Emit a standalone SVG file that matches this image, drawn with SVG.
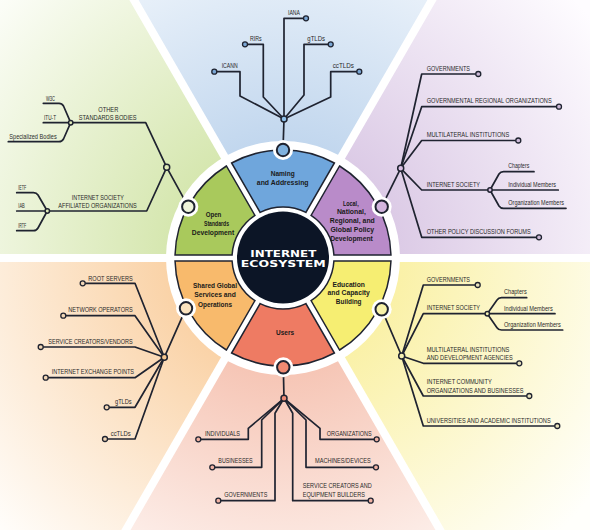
<svg xmlns="http://www.w3.org/2000/svg" width="590" height="530" viewBox="0 0 590 530">
<style>
.sep{stroke:#fff;stroke-width:8}
.c{fill:none;stroke:#1f2330;stroke-width:1.7;stroke-linejoin:round;stroke-linecap:round}
.sec{stroke:#1f2330;stroke-width:1.5}
.lbl{font-family:"Liberation Sans",Arial,sans-serif;font-size:6.3px;fill:#2a2a2a}
.sl{font-family:"Liberation Sans",Arial,sans-serif;font-size:7.4px;font-weight:bold;fill:#1a1a1a;text-anchor:middle}
.ttl{font-family:"DejaVu Sans",sans-serif;font-weight:bold;font-size:9.5px;fill:#fff;text-anchor:middle}
.end{stroke:#1f2330;stroke-width:1.3}
.hub{stroke:#1f2330;stroke-width:1.5}
.big{stroke:#1f2330;stroke-width:2}
.halo{fill:#fff}
</style>
<defs>
<radialGradient id="gB" cx="283" cy="258" r="390" gradientUnits="userSpaceOnUse"><stop offset="0.3" stop-color="#c2d7ee"/><stop offset="1" stop-color="#fbfdff"/></radialGradient>
<radialGradient id="gP" cx="283" cy="258" r="390" gradientUnits="userSpaceOnUse"><stop offset="0.3" stop-color="#dccbe6"/><stop offset="1" stop-color="#fefcff"/></radialGradient>
<radialGradient id="gY" cx="283" cy="258" r="390" gradientUnits="userSpaceOnUse"><stop offset="0.3" stop-color="#faf1a8"/><stop offset="1" stop-color="#fffffb"/></radialGradient>
<radialGradient id="gS" cx="283" cy="258" r="390" gradientUnits="userSpaceOnUse"><stop offset="0.3" stop-color="#f6c6b6"/><stop offset="1" stop-color="#fffcfb"/></radialGradient>
<radialGradient id="gO" cx="283" cy="258" r="390" gradientUnits="userSpaceOnUse"><stop offset="0.3" stop-color="#fad3a8"/><stop offset="1" stop-color="#fffdfa"/></radialGradient>
<radialGradient id="gG" cx="283" cy="258" r="390" gradientUnits="userSpaceOnUse"><stop offset="0.3" stop-color="#d6e7b0"/><stop offset="1" stop-color="#fdfefa"/></radialGradient>
<polygon id="wedge" points="283,258 633,-348 -67,-348"/>
<path id="sec" class="sec" d="M334.39 163 A108 108 0 0 0 231.61 163 L260.14 212.41 A51 51 0 0 1 305.86 212.41 Z"/>
</defs>

<g id="background">
<rect width="590" height="530" fill="#fff"/>
<use href="#wedge" fill="url(#gB)"/>
<use href="#wedge" fill="url(#gP)" transform="rotate(60 283 258)"/>
<use href="#wedge" fill="url(#gY)" transform="rotate(120 283 258)"/>
<use href="#wedge" fill="url(#gS)" transform="rotate(180 283 258)"/>
<use href="#wedge" fill="url(#gO)" transform="rotate(240 283 258)"/>
<use href="#wedge" fill="url(#gG)" transform="rotate(300 283 258)"/>
<line class="sep" x1="-420" y1="258" x2="990" y2="258"/>
<line class="sep" x1="-67" y1="864" x2="633" y2="-348"/>
<line class="sep" x1="633" y1="864" x2="-67" y2="-348"/>
</g>

<g id="connectors">
<!-- top -->
<path class="c" d="M283 150 L284 119"/>
<path class="c" d="M284 119 L240 96 L240 71.7 L214.3 71.7"/>
<path class="c" d="M284 119 L263.3 97 L263.3 44.3 L245 44.3"/>
<path class="c" d="M284 119 L284 18.3 L306 18.3"/>
<path class="c" d="M284 119 L304 95 L304 44.3 L330.7 44.3"/>
<path class="c" d="M284 119 L330.7 97 L330.7 71.7 L359.3 71.7"/>
<!-- upper left -->
<path class="c" d="M188.3 206.7 L166.7 167.3"/>
<path class="c" d="M166.7 167.3 L145.7 122.7 L70.7 122.7"/>
<path class="c" d="M70.7 122.7 L63.5 106 Q62 103.3 59 103.3 L43.3 103.3"/>
<path class="c" d="M70.7 122.7 L43.3 122.7"/>
<path class="c" d="M70.7 122.7 L63.5 139 Q62 141.7 59 141.7 L8.3 141.7"/>
<path class="c" d="M166.7 167.3 L146.7 211 L47.3 211"/>
<path class="c" d="M47.3 211 L38 195 Q36.5 192.7 33.5 192.7 L16.7 192.7"/>
<path class="c" d="M47.3 211 L16.7 211"/>
<path class="c" d="M47.3 211 L38 228 Q36.5 230.7 33.5 230.7 L16.7 230.7"/>
<!-- upper right -->
<path class="c" d="M381.7 206.7 L400.7 168.3"/>
<path class="c" d="M400.7 168.3 L421.7 74 L478.3 74"/>
<path class="c" d="M400.7 168.3 L421.7 106.7 L559 106.7"/>
<path class="c" d="M400.7 168.3 L421.7 140.5 L518.3 140.5"/>
<path class="c" d="M400.7 168.3 L421.7 190 L490 190"/>
<path class="c" d="M490 190 L499 174 Q500.5 171.7 503.5 171.7 L534 171.7"/>
<path class="c" d="M490 190 L558.3 190"/>
<path class="c" d="M490 190 L499 206 Q500.5 208.3 503.5 208.3 L566 208.3"/>
<path class="c" d="M400.7 168.3 L421.7 237.3 L539 237.3"/>
<!-- lower right -->
<path class="c" d="M381.7 309.3 L401.7 356"/>
<path class="c" d="M401.7 356 L423.3 285 L477.7 285"/>
<path class="c" d="M401.7 356 L423.3 313.7 L487.3 313.7"/>
<path class="c" d="M487.3 313.7 L497 300 Q498.5 297.7 501.5 297.7 L526.7 297.7"/>
<path class="c" d="M487.3 313.7 L555 313.7"/>
<path class="c" d="M487.3 313.7 L497 327.7 Q498.5 330 501.5 330 L562.7 330"/>
<path class="c" d="M401.7 356 L423.3 363.3 L519.3 363.3"/>
<path class="c" d="M401.7 356 L423.3 396 L529.3 396"/>
<path class="c" d="M401.7 356 L423.3 426 L557.3 426"/>
<!-- lower left -->
<path class="c" d="M186 308.3 L164.3 357.3"/>
<path class="c" d="M164.3 357.3 L135 283.3 L82.7 283.3"/>
<path class="c" d="M164.3 357.3 L135 315.7 L63.3 315.7"/>
<path class="c" d="M164.3 357.3 L135 347 L40.7 347"/>
<path class="c" d="M164.3 357.3 L135 377.7 L45.7 377.7"/>
<path class="c" d="M164.3 357.3 L135 407.3 L106.7 407.3"/>
<path class="c" d="M164.3 357.3 L135 439 L105 439"/>
<!-- bottom -->
<path class="c" d="M283.3 367.3 L284 398.3"/>
<path class="c" d="M284 398.3 L248.3 428.3 L248.3 439.3 L198.3 439.3"/>
<path class="c" d="M284 398.3 L261.7 420 L261.7 467.3 L212.3 467.3"/>
<path class="c" d="M284 398.3 L275 413.3 L275 500.7 L218.3 500.7"/>
<path class="c" d="M284 398.3 L292.7 413.3 L292.7 500.7 L370.7 500.7"/>
<path class="c" d="M284 398.3 L306 420 L306 467.3 L376 467.3"/>
<path class="c" d="M284 398.3 L320 428.3 L320 439.3 L376.7 439.3"/>
</g>

<g id="ring">
<circle cx="283" cy="258" r="117" fill="#fff"/>
<circle cx="283" cy="257.5" r="46" fill="#0c1526"/>
</g>

<g id="naming">
<use href="#sec" fill="#6fa6dc"/>
<text class="sl" x="282.7" y="176" textLength="24" lengthAdjust="spacingAndGlyphs">Naming</text>
<text class="sl" x="282.7" y="185" textLength="51.7" lengthAdjust="spacingAndGlyphs">and Addressing</text>
<circle class="halo" cx="283" cy="150" r="10"/><circle class="big" cx="283" cy="150" r="6.2" fill="#7fb1de"/>
</g>
<g id="policy">
<use href="#sec" fill="#b98bc9" transform="rotate(60 283 258)"/>
<text class="sl" x="350.8" y="205.5" textLength="15.7" lengthAdjust="spacingAndGlyphs">Local,</text>
<text class="sl" x="351.4" y="214.3" textLength="29" lengthAdjust="spacingAndGlyphs">National,</text>
<text class="sl" x="352.3" y="223" textLength="45" lengthAdjust="spacingAndGlyphs">Regional, and</text>
<text class="sl" x="352.3" y="231.8" textLength="43.7" lengthAdjust="spacingAndGlyphs">Global Policy</text>
<text class="sl" x="351.5" y="240.6" textLength="42.7" lengthAdjust="spacingAndGlyphs">Development</text>
<circle class="halo" cx="381.7" cy="206.7" r="10"/><circle class="big" cx="381.7" cy="206.7" r="6.2" fill="#d3b5de"/>
</g>
<g id="education">
<use href="#sec" fill="#f6ee72" transform="rotate(120 283 258)"/>
<text class="sl" x="348.7" y="286.7" textLength="32.3" lengthAdjust="spacingAndGlyphs">Education</text>
<text class="sl" x="348.7" y="295.3" textLength="42.3" lengthAdjust="spacingAndGlyphs">and Capacity</text>
<text class="sl" x="348.7" y="304.3" textLength="25.7" lengthAdjust="spacingAndGlyphs">Building</text>
<circle class="halo" cx="381.7" cy="309.3" r="10"/><circle class="big" cx="381.7" cy="309.3" r="6.2" fill="#f8f3a8"/>
</g>
<g id="users">
<use href="#sec" fill="#ee7b63" transform="rotate(180 283 258)"/>
<text class="sl" x="285" y="335.3" textLength="18" lengthAdjust="spacingAndGlyphs">Users</text>
<circle class="halo" cx="283.3" cy="367.3" r="10"/><circle class="big" cx="283.3" cy="367.3" r="6.2" fill="#f08a72"/>
</g>
<g id="shared">
<use href="#sec" fill="#f8ba6c" transform="rotate(240 283 258)"/>
<text class="sl" x="215" y="288.3" textLength="44" lengthAdjust="spacingAndGlyphs">Shared Global</text>
<text class="sl" x="215" y="297.3" textLength="41.7" lengthAdjust="spacingAndGlyphs">Services and</text>
<text class="sl" x="215" y="306.7" textLength="34" lengthAdjust="spacingAndGlyphs">Operations</text>
<circle class="halo" cx="186" cy="308.3" r="10"/><circle class="big" cx="186" cy="308.3" r="6.2" fill="#fbe3bf"/>
</g>
<g id="standards">
<use href="#sec" fill="#a9c95c" transform="rotate(300 283 258)"/>
<text class="sl" x="213.5" y="216.7" textLength="15.7" lengthAdjust="spacingAndGlyphs">Open</text>
<text class="sl" x="216.5" y="225.5" textLength="25" lengthAdjust="spacingAndGlyphs">Standards</text>
<text class="sl" x="213" y="235" textLength="42.3" lengthAdjust="spacingAndGlyphs">Development</text>
<circle class="halo" cx="188.3" cy="206.7" r="10"/><circle class="big" cx="188.3" cy="206.7" r="6.2" fill="#eef3da"/>
</g>
<g id="center">
<text class="ttl" x="283.3" y="256.7" textLength="66" lengthAdjust="spacingAndGlyphs">INTERNET</text>
<text class="ttl" x="283.3" y="267.3" textLength="85" lengthAdjust="spacingAndGlyphs">ECOSYSTEM</text>
</g>

<!-- top leaves -->
<g id="hub-naming"><circle class="hub" cx="284" cy="119" r="3" fill="#8ec0ea"/></g>
<g id="icann"><circle class="end" cx="214.3" cy="71.7" r="2.5" fill="#7aa6d4"/><text class="lbl" x="221.7" y="67.7" textLength="16" lengthAdjust="spacingAndGlyphs">ICANN</text></g>
<g id="rirs"><circle class="end" cx="245" cy="44.3" r="2.5" fill="#7aa6d4"/><text class="lbl" x="250" y="40.5" textLength="11.7" lengthAdjust="spacingAndGlyphs">RIRs</text></g>
<g id="iana"><circle class="end" cx="306" cy="18.3" r="2.5" fill="#7aa6d4"/><text class="lbl" x="288" y="15.3" textLength="12" lengthAdjust="spacingAndGlyphs">IANA</text></g>
<g id="gtlds-n"><circle class="end" cx="330.7" cy="44.3" r="2.5" fill="#7aa6d4"/><text class="lbl" x="307.3" y="40.5" textLength="17.7" lengthAdjust="spacingAndGlyphs">gTLDs</text></g>
<g id="cctlds-n"><circle class="end" cx="359.3" cy="71.7" r="2.5" fill="#7aa6d4"/><text class="lbl" x="332.7" y="67.7" textLength="21.3" lengthAdjust="spacingAndGlyphs">ccTLDs</text></g>

<!-- upper left leaves -->
<g id="hub-standards"><circle class="hub" cx="166.7" cy="167.3" r="3" fill="#dfeab8"/></g>
<g id="other-standards"><circle class="hub" cx="70.7" cy="122.7" r="2.2" fill="#dfeab8"/>
<text class="lbl" x="108.3" y="112.3" text-anchor="middle" textLength="20" lengthAdjust="spacingAndGlyphs">OTHER</text>
<text class="lbl" x="107.7" y="119.6" text-anchor="middle" textLength="58" lengthAdjust="spacingAndGlyphs">STANDARDS BODIES</text></g>
<g id="w3c"><text class="lbl" x="46" y="100.5" textLength="9" lengthAdjust="spacingAndGlyphs">W3C</text></g>
<g id="itu"><text class="lbl" x="44" y="119.8" textLength="12" lengthAdjust="spacingAndGlyphs">ITU-T</text></g>
<g id="specialized"><text class="lbl" x="9.3" y="138.8" textLength="47.4" lengthAdjust="spacingAndGlyphs">Specialized Bodies</text></g>
<g id="isoc-affiliated"><circle class="hub" cx="47.3" cy="211" r="2.2" fill="#dfeab8"/>
<text class="lbl" x="97.8" y="199.5" text-anchor="middle" textLength="52" lengthAdjust="spacingAndGlyphs">INTERNET SOCIETY</text>
<text class="lbl" x="97.5" y="207.8" text-anchor="middle" textLength="78.4" lengthAdjust="spacingAndGlyphs">AFFILIATED ORGANIZATIONS</text></g>
<g id="ietf"><text class="lbl" x="18.3" y="189.8" textLength="8" lengthAdjust="spacingAndGlyphs">IETF</text></g>
<g id="iab"><text class="lbl" x="18.3" y="208.2" textLength="6.5" lengthAdjust="spacingAndGlyphs">IAB</text></g>
<g id="irtf"><text class="lbl" x="18.3" y="227.8" textLength="8" lengthAdjust="spacingAndGlyphs">IRTF</text></g>

<!-- upper right leaves -->
<g id="hub-policy"><circle class="hub" cx="400.7" cy="168.3" r="3" fill="#d9c0e3"/></g>
<g id="gov-p"><circle class="end" cx="478.3" cy="74" r="2.5" fill="#cdbad8"/><text class="lbl" x="426.7" y="70.6" textLength="43.3" lengthAdjust="spacingAndGlyphs">GOVERNMENTS</text></g>
<g id="gro"><circle class="end" cx="559" cy="106.7" r="2.5" fill="#cdbad8"/><text class="lbl" x="426.7" y="103.3" textLength="125" lengthAdjust="spacingAndGlyphs">GOVERNMENTAL REGIONAL ORGANIZATIONS</text></g>
<g id="multi-p"><circle class="end" cx="518.3" cy="140.5" r="2.5" fill="#cdbad8"/><text class="lbl" x="426.7" y="137.2" textLength="82.6" lengthAdjust="spacingAndGlyphs">MULTILATERAL INSTITUTIONS</text></g>
<g id="isoc-p"><circle class="hub" cx="490" cy="190" r="2.2" fill="#d9c0e3"/><text class="lbl" x="426.7" y="186.7" textLength="53.3" lengthAdjust="spacingAndGlyphs">INTERNET SOCIETY</text></g>
<g id="chapters-p"><text class="lbl" x="508.3" y="168.4" textLength="21" lengthAdjust="spacingAndGlyphs">Chapters</text></g>
<g id="indiv-p"><text class="lbl" x="508.3" y="186.8" textLength="47.7" lengthAdjust="spacingAndGlyphs">Individual Members</text></g>
<g id="org-p"><text class="lbl" x="508.3" y="205.4" textLength="55.7" lengthAdjust="spacingAndGlyphs">Organization Members</text></g>
<g id="forums"><circle class="end" cx="539" cy="237.3" r="2.5" fill="#cdbad8"/><text class="lbl" x="426.7" y="234" textLength="104" lengthAdjust="spacingAndGlyphs">OTHER POLICY DISCUSSION FORUMS</text></g>

<!-- lower right leaves -->
<g id="hub-education"><circle class="hub" cx="401.7" cy="356" r="3" fill="#f6f1b4"/></g>
<g id="gov-e"><circle class="end" cx="477.7" cy="285" r="2.5" fill="#e9e3bd"/><text class="lbl" x="426.7" y="281.7" textLength="43.3" lengthAdjust="spacingAndGlyphs">GOVERNMENTS</text></g>
<g id="isoc-e"><circle class="hub" cx="487.3" cy="313.7" r="2.2" fill="#f6f1b4"/><text class="lbl" x="426.7" y="310.2" textLength="53.3" lengthAdjust="spacingAndGlyphs">INTERNET SOCIETY</text></g>
<g id="chapters-e"><text class="lbl" x="504" y="294.4" textLength="22.7" lengthAdjust="spacingAndGlyphs">Chapters</text></g>
<g id="indiv-e"><text class="lbl" x="504" y="310.6" textLength="48.7" lengthAdjust="spacingAndGlyphs">Individual Members</text></g>
<g id="org-e"><text class="lbl" x="504" y="326.8" textLength="56.7" lengthAdjust="spacingAndGlyphs">Organization Members</text></g>
<g id="multi-e"><circle class="end" cx="519.3" cy="363.3" r="2.5" fill="#e9e3bd"/>
<text class="lbl" x="426.7" y="351.8" textLength="82.7" lengthAdjust="spacingAndGlyphs">MULTILATERAL INSTITUTIONS</text>
<text class="lbl" x="426.7" y="360.1" textLength="86" lengthAdjust="spacingAndGlyphs">AND DEVELOPMENT AGENCIES</text></g>
<g id="community"><circle class="end" cx="529.3" cy="396" r="2.5" fill="#e9e3bd"/>
<text class="lbl" x="426.7" y="384.2" textLength="65" lengthAdjust="spacingAndGlyphs">INTERNET COMMUNITY</text>
<text class="lbl" x="426.7" y="392.6" textLength="96.7" lengthAdjust="spacingAndGlyphs">ORGANIZATIONS AND BUSINESSES</text></g>
<g id="universities"><circle class="end" cx="557.3" cy="426" r="2.5" fill="#e9e3bd"/><text class="lbl" x="426.7" y="422.7" textLength="124" lengthAdjust="spacingAndGlyphs">UNIVERSITIES AND ACADEMIC INSTITUTIONS</text></g>

<!-- lower left leaves -->
<g id="hub-shared"><circle class="hub" cx="164.3" cy="357.3" r="3" fill="#f6c68e"/></g>
<g id="root"><circle class="end" cx="82.7" cy="283.3" r="2.5" fill="#f1d6b6"/><text class="lbl" x="88.3" y="280.5" textLength="44.4" lengthAdjust="spacingAndGlyphs">ROOT SERVERS</text></g>
<g id="netops"><circle class="end" cx="63.3" cy="315.7" r="2.5" fill="#f1d6b6"/><text class="lbl" x="68.3" y="312.4" textLength="64.4" lengthAdjust="spacingAndGlyphs">NETWORK OPERATORS</text></g>
<g id="vendors"><circle class="end" cx="40.7" cy="347" r="2.5" fill="#f1d6b6"/><text class="lbl" x="48.3" y="343.6" textLength="84.4" lengthAdjust="spacingAndGlyphs">SERVICE CREATORS/VENDORS</text></g>
<g id="ixp"><circle class="end" cx="45.7" cy="377.7" r="2.5" fill="#f1d6b6"/><text class="lbl" x="51.7" y="374.4" textLength="82.3" lengthAdjust="spacingAndGlyphs">INTERNET EXCHANGE POINTS</text></g>
<g id="gtlds-s"><circle class="end" cx="106.7" cy="407.3" r="2.5" fill="#f1d6b6"/><text class="lbl" x="115" y="404" textLength="16.7" lengthAdjust="spacingAndGlyphs">gTLDs</text></g>
<g id="cctlds-s"><circle class="end" cx="105" cy="439" r="2.5" fill="#f1d6b6"/><text class="lbl" x="110.7" y="435.6" textLength="20" lengthAdjust="spacingAndGlyphs">ccTLDs</text></g>

<!-- bottom leaves -->
<g id="hub-users"><circle class="hub" cx="284" cy="398.3" r="3" fill="#ee8a76"/></g>
<g id="individuals"><circle class="end" cx="198.3" cy="439.3" r="2.5" fill="#f1b3a4"/><text class="lbl" x="205" y="436" textLength="35" lengthAdjust="spacingAndGlyphs">INDIVIDUALS</text></g>
<g id="businesses"><circle class="end" cx="212.3" cy="467.3" r="2.5" fill="#f1b3a4"/><text class="lbl" x="218.3" y="463.4" textLength="34.4" lengthAdjust="spacingAndGlyphs">BUSINESSES</text></g>
<g id="gov-u"><circle class="end" cx="218.3" cy="500.7" r="2.5" fill="#f1b3a4"/><text class="lbl" x="224.3" y="496.8" textLength="43" lengthAdjust="spacingAndGlyphs">GOVERNMENTS</text></g>
<g id="builders"><circle class="end" cx="370.7" cy="500.7" r="2.5" fill="#f1b3a4"/>
<text class="lbl" x="302.7" y="488.4" textLength="69" lengthAdjust="spacingAndGlyphs">SERVICE CREATORS AND</text>
<text class="lbl" x="302.7" y="496.8" textLength="62.3" lengthAdjust="spacingAndGlyphs">EQUIPMENT BUILDERS</text></g>
<g id="machines"><circle class="end" cx="376" cy="467.3" r="2.5" fill="#f1b3a4"/><text class="lbl" x="315" y="463.4" textLength="55.7" lengthAdjust="spacingAndGlyphs">MACHINES/DEVICES</text></g>
<g id="organizations"><circle class="end" cx="376.7" cy="439.3" r="2.5" fill="#f1b3a4"/><text class="lbl" x="326.7" y="436" textLength="45" lengthAdjust="spacingAndGlyphs">ORGANIZATIONS</text></g>
</svg>
